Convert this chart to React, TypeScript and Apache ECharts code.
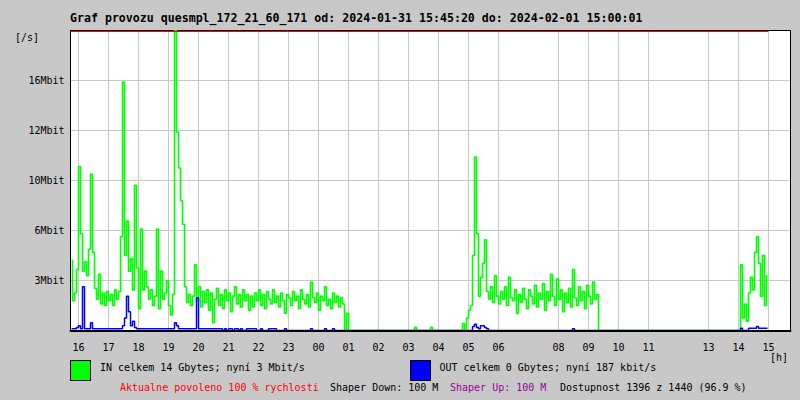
import React, { useEffect, useRef } from 'react';
import * as echarts from 'echarts';

const FONT = '"DejaVu Sans Mono", "Liberation Mono", monospace';

const TITLE = 'Graf provozu quesmpl_172_21_60_171 od: 2024-01-31 15:45:20 do: 2024-02-01 15:00:01';
const IN_NAME = 'IN celkem 14 Gbytes; nyní 3 Mbit/s';
const OUT_NAME = 'OUT celkem 0 Gbytes; nyní 187 kbit/s';
const FOOTER_LIMIT = 'Aktualne povoleno 100 % rychlosti';
const FOOTER_DOWN = 'Shaper Down: 100 M';
const FOOTER_UP = 'Shaper Up: 100 M';
const FOOTER_AVAIL = 'Dostupnost 1396 z 1440 (96.9 %)';

// time axis in minutes relative to 16:00 (day 1); window 15:44 .. 15:44 next day
const T_MIN = -16;
const T_MAX = 1424;
const SAMPLE_MIN = 4; // one sample every 4 minutes, first sample starts 15:44
const T_LIMIT_END = 1380; // 15:00

const hourTicks = [16, 17, 18, 19, 20, 21, 22, 23, 0, 1, 2, 3, 4, 5, 6, 8, 9, 10, 11, 13, 14, 15];

const Y_MAX = 19.2;
const Y_STEP = 3.2;
const yTickLabels = ['', '3Mbit', '6Mbit', '10Mbit', '12Mbit', '16Mbit', ''];
const LIMIT_LINE = 19.136;

// IN traffic [Mbit/s], 4-minute samples
const inA = [4.5, 1.9, 2.4, 3.9, 10.5, 6.2, 3.8, 4.4, 3.5, 5.2, 10.0, 5.0, 2.7, 2.0, 3.6, 1.7, 2.4, 1.6, 2.5, 1.9,
  2.3, 1.6, 2.6, 2.0, 2.5, 6.0, 15.9, 4.8, 7.0, 3.8, 4.6, 2.6, 9.3, 4.0, 1.4, 6.5, 2.6, 3.8, 2.8, 2.0,
  2.6, 1.6, 2.2, 6.5, 1.4];
const inB = [3.8, 2.0, 2.4, 3.2, 1.6, 1.0, 2.3, 19.2, 12.7, 10.4, 8.3, 6.8, 2.8, 1.8, 2.3, 1.6, 2.2, 4.2, 1.9, 2.8,
  1.5, 2.5, 1.8, 2.6, 1.3, 2.4, 0.5, 2.0, 2.7, 1.6, 2.3, 1.4, 2.6, 1.9, 2.4, 1.2, 2.2, 2.8, 1.7, 2.3,
  1.5, 2.6, 1.9, 2.3, 1.3];
const inC = [2.2, 1.5, 2.4, 1.9, 2.6, 1.6, 2.3, 1.4, 2.5, 2.0, 1.7, 2.6, 1.8, 2.2, 1.5, 2.4, 1.9, 1.1, 2.3, 2.1,
  1.6, 2.5, 1.9, 2.2, 1.4, 2.6, 2.0, 1.7, 2.3, 1.5, 3.1, 2.1, 1.8, 2.4, 1.3, 2.2, 1.9, 2.8, 1.6, 2.0,
  1.4, 2.4, 1.8, 2.2, 1.5, 2.1, 1.7, 0, 1.1];
const inNight = [0, 0, 0, 0, 0, 0, 0, 0, 0, 0, 0, 0, 0, 0, 0, 0, 0, 0, 0, 0,
  0, 0, 0, 0, 0, 0, 0, 0, 0, 0, 0, 0, 0, 0.2, 0, 0, 0, 0, 0, 0,
  0, 0.2, 0, 0, 0, 0, 0, 0, 0, 0, 0, 0, 0, 0, 0, 0, 0];
const inD = [0.45, 0, 0.8, 1.3, 1.6, 4.8, 11.1, 6.2, 2.2, 3.4, 4.3, 5.8, 2.5, 2.0, 2.8, 1.8, 3.5, 2.2, 1.7, 2.5,
  2.0, 2.8, 1.6, 3.4, 2.1, 1.9, 2.6, 1.1, 2.3, 1.8, 2.7, 2.0, 1.4, 2.6, 2.2, 1.7, 2.9, 1.5, 2.4, 2.0,
  3.0, 1.3, 2.5, 1.9, 3.6, 2.2, 1.6, 3.3, 2.0, 2.6, 1.2, 2.4, 1.8, 2.7, 1.5, 3.9, 2.1, 1.6, 2.8, 1.9,
  2.5, 1.4, 2.9, 2.2, 1.7, 3.1, 2.0, 2.3, 0];
const inMidday = [0, 0, 0, 0, 0, 0, 0, 0, 0, 0, 0, 0, 0, 0, 0, 0, 0, 0, 0, 0,
  0, 0, 0, 0, 0, 0, 0, 0, 0, 0, 0, 0, 0, 0, 0, 0, 0, 0, 0, 0,
  0, 0, 0, 0, 0, 0, 0, 0, 0, 0, 0, 0, 0, 0, 0, 0, 0, 0, 0, 0,
  0, 0, 0, 0, 0, 0, 0, 0, 0, 0];
const inE = [4.2, 0.8, 1.7, 0.6, 2.4, 3.4, 2.6, 5.0, 6.0, 4.3, 2.2, 4.8, 1.6, 3.5];

// OUT traffic [Mbit/s]
const outA = [0.12, 0.12, 0.12, 0.2, 0.3, 0.12, 2.8, 0.12, 0.12, 0.12, 0.5, 0.12, 0.12, 0.12, 0.12, 0.12, 0.12, 0.12, 0.12, 0.12,
  0.12, 0.12, 0.12, 0.12, 0.12, 0.12, 0.3, 0.8, 2.2, 1.2, 0.3, 0.6, 0.2, 0.12, 0.12, 0.12, 0.12, 0.12, 0.12, 0.12,
  0.12, 0.12, 0.12, 0.12, 0.12];
const outB = [0.12, 0.12, 0.12, 0.12, 0.12, 0.12, 0.12, 0.5, 0.3, 0.12, 0.12, 0.12, 0.12, 0.12, 0.12, 0.12, 0.12, 0.12, 2.1, 0.12,
  0.12, 0.12, 0.12, 0.12, 0.12, 0.12, 0.12, 0.12, 0.12, 0.12, 0.12, 0, 0.12, 0, 0.12, 0.12, 0, 0.12, 0.12, 0,
  0.12, 0, 0, 0.12, 0.12];
const outC = [0.12, 0.12, 0.12, 0, 0, 0.12, 0, 0, 0, 0.12, 0.12, 0.12, 0.12, 0, 0, 0, 0, 0.12, 0, 0,
  0, 0, 0, 0, 0, 0, 0, 0, 0, 0, 0.12, 0, 0, 0, 0, 0, 0, 0.12, 0, 0,
  0, 0.12, 0, 0, 0, 0, 0, 0, 0];
const outNight = [0, 0, 0, 0, 0, 0, 0, 0, 0, 0, 0, 0, 0, 0, 0, 0, 0, 0, 0, 0,
  0, 0, 0, 0, 0, 0, 0, 0, 0, 0, 0, 0, 0, 0, 0, 0, 0, 0, 0, 0,
  0, 0, 0, 0, 0, 0, 0, 0, 0, 0, 0, 0, 0, 0, 0, 0, 0];
const outD = [0, 0, 0, 0, 0, 0.25, 0.4, 0.2, 0.12, 0.3, 0.3, 0.2, 0.12, 0, 0, 0, 0, 0, 0, 0,
  0, 0, 0, 0, 0, 0, 0, 0, 0, 0, 0, 0, 0, 0, 0, 0, 0, 0, 0, 0,
  0, 0, 0, 0, 0, 0, 0, 0, 0, 0, 0, 0, 0, 0, 0, 0.12, 0, 0, 0, 0,
  0, 0, 0, 0, 0, 0, 0, 0, 0];
const outMidday = [0, 0, 0, 0, 0, 0, 0, 0, 0, 0, 0, 0, 0, 0, 0, 0, 0, 0, 0, 0,
  0, 0, 0, 0, 0, 0, 0, 0, 0, 0, 0, 0, 0, 0, 0, 0, 0, 0, 0, 0,
  0, 0, 0, 0, 0, 0, 0, 0, 0, 0, 0, 0, 0, 0, 0, 0, 0, 0, 0, 0,
  0, 0, 0, 0, 0, 0, 0, 0, 0, 0];
const outE = [0.15, 0, 0, 0, 0.15, 0.15, 0.15, 0.15, 0.25, 0.15, 0.15, 0.15, 0.15, 0.15];

const inValues = [...inA, ...inB, ...inC, ...inNight, ...inD, ...inMidday, ...inE];
const outValues = [...outA, ...outB, ...outC, ...outNight, ...outD, ...outMidday, ...outE];

const toPoints = (vals: number[]) => vals.map((v, i) => [T_MIN + SAMPLE_MIN * i + SAMPLE_MIN / 2, v]);

const hourValues = hourTicks.map((h) => ((h - 16 + 24) % 24) * 60);
const hourLabel = (v: number) => {
  const h = (16 + Math.round(v / 60)) % 24;
  return String(h).padStart(2, '0');
};

const GRID_GRAY = '#c8c8c8';

export default function App() {
  const ref = useRef<HTMLDivElement>(null);
  useEffect(() => {
    if (!ref.current) return;
    const chart = echarts.init(ref.current, null, { renderer: 'svg' });
    const smallText = { fontFamily: FONT, fontSize: 10 };
    chart.setOption({
      animation: false,
      backgroundColor: '#c8c8c8',
      title: {
        text: TITLE,
        left: 70,
        top: 12,
        padding: 0,
        textStyle: { fontFamily: FONT, fontSize: 11.6, fontWeight: 'bold', color: '#000' },
      },
      grid: {
        left: 70.5,
        top: 30.5,
        width: 720,
        height: 300,
        show: true,
        backgroundColor: '#ffffff',
        borderWidth: 0,
      },
      xAxis: [
        {
          type: 'value',
          min: T_MIN,
          max: T_MAX,
          position: 'bottom',
          axisLine: { show: true, onZero: false, lineStyle: { color: '#000', width: 2 } },
          axisTick: { show: false, customValues: hourValues },
          axisLabel: {
            customValues: hourValues,
            formatter: (v: number) => hourLabel(v),
            margin: 12,
            color: '#000',
            ...smallText,
          },
          splitLine: { show: true, lineStyle: { color: GRID_GRAY, width: 1 } },
        },
        {
          type: 'value',
          min: T_MIN,
          max: T_MAX,
          position: 'top',
          axisLine: { show: true, onZero: false, lineStyle: { color: '#000', width: 1 } },
          axisTick: { show: false },
          axisLabel: { show: false },
          splitLine: { show: false },
        },
      ],
      yAxis: [
        {
          type: 'value',
          min: 0,
          max: Y_MAX,
          interval: Y_STEP,
          position: 'left',
          axisLine: { show: true, onZero: false, lineStyle: { color: '#000', width: 1 } },
          axisTick: { show: false },
          axisLabel: {
            formatter: (_v: number, i: number) => yTickLabels[i] ?? '',
            margin: 6,
            color: '#000',
            ...smallText,
          },
          splitLine: { show: true, showMinLine: false, showMaxLine: false, lineStyle: { color: GRID_GRAY, width: 1 } },
        },
        {
          type: 'value',
          min: 0,
          max: Y_MAX,
          interval: Y_STEP,
          position: 'right',
          axisLine: { show: true, onZero: false, lineStyle: { color: '#000', width: 1 } },
          axisTick: { show: false },
          axisLabel: { show: false },
          splitLine: { show: false },
        },
      ],
      series: [
        {
          name: IN_NAME,
          type: 'line',
          xAxisIndex: 0,
          yAxisIndex: 0,
          step: 'middle',
          symbol: 'none',
          color: '#00ff00',
          lineStyle: { color: '#00ff00', width: 1.6 },
          data: toPoints(inValues),
          markLine: {
            silent: true,
            symbol: 'none',
            label: { show: false },
            lineStyle: { color: '#ff0000', width: 1, type: 'solid' },
            data: [[{ coord: [T_MIN, LIMIT_LINE] }, { coord: [T_LIMIT_END, LIMIT_LINE] }]],
          },
        },
        {
          name: OUT_NAME,
          type: 'line',
          xAxisIndex: 0,
          yAxisIndex: 0,
          step: 'middle',
          symbol: 'none',
          color: '#0000ff',
          lineStyle: { color: '#0000ff', width: 1.5 },
          data: toPoints(outValues),
          markLine: {
            silent: true,
            symbol: 'none',
            label: { show: false },
            lineStyle: { color: '#000', width: 2, type: 'solid' },
            data: [[{ coord: [T_MIN, 0] }, { coord: [T_MAX, 0] }]],
          },
        },
      ],
      graphic: [
        { type: 'text', x: 15, y: 37.5, style: { text: '[/s]', fill: '#000', ...smallText, verticalAlign: 'middle' } },
        { type: 'text', x: 770, y: 357, style: { text: '[h]', fill: '#000', ...smallText, verticalAlign: 'middle' } },
        { type: 'rect', shape: { x: 70.5, y: 360.5, width: 20, height: 20 }, style: { fill: '#00ff00', stroke: '#000', lineWidth: 1 } },
        { type: 'text', x: 100, y: 367.5, style: { text: IN_NAME, fill: '#000', ...smallText, verticalAlign: 'middle' } },
        { type: 'rect', shape: { x: 410.5, y: 360.5, width: 20, height: 20 }, style: { fill: '#0000ff', stroke: '#000', lineWidth: 1 } },
        { type: 'text', x: 439.5, y: 367.5, style: { text: OUT_NAME, fill: '#000', ...smallText, verticalAlign: 'middle' } },
        { type: 'text', x: 120, y: 387, style: { text: FOOTER_LIMIT, fill: '#ff0000', ...smallText, verticalAlign: 'middle' } },
        { type: 'text', x: 330, y: 387, style: { text: FOOTER_DOWN, fill: '#000', ...smallText, verticalAlign: 'middle' } },
        { type: 'text', x: 450, y: 387, style: { text: FOOTER_UP, fill: '#990099', ...smallText, verticalAlign: 'middle' } },
        { type: 'text', x: 560, y: 387, style: { text: FOOTER_AVAIL, fill: '#000', ...smallText, verticalAlign: 'middle' } },
      ],
    });
    return () => chart.dispose();
  }, []);
  return <div ref={ref} style={{ position: 'fixed', left: 0, top: 0, width: 800, height: 400 }} />;
}
